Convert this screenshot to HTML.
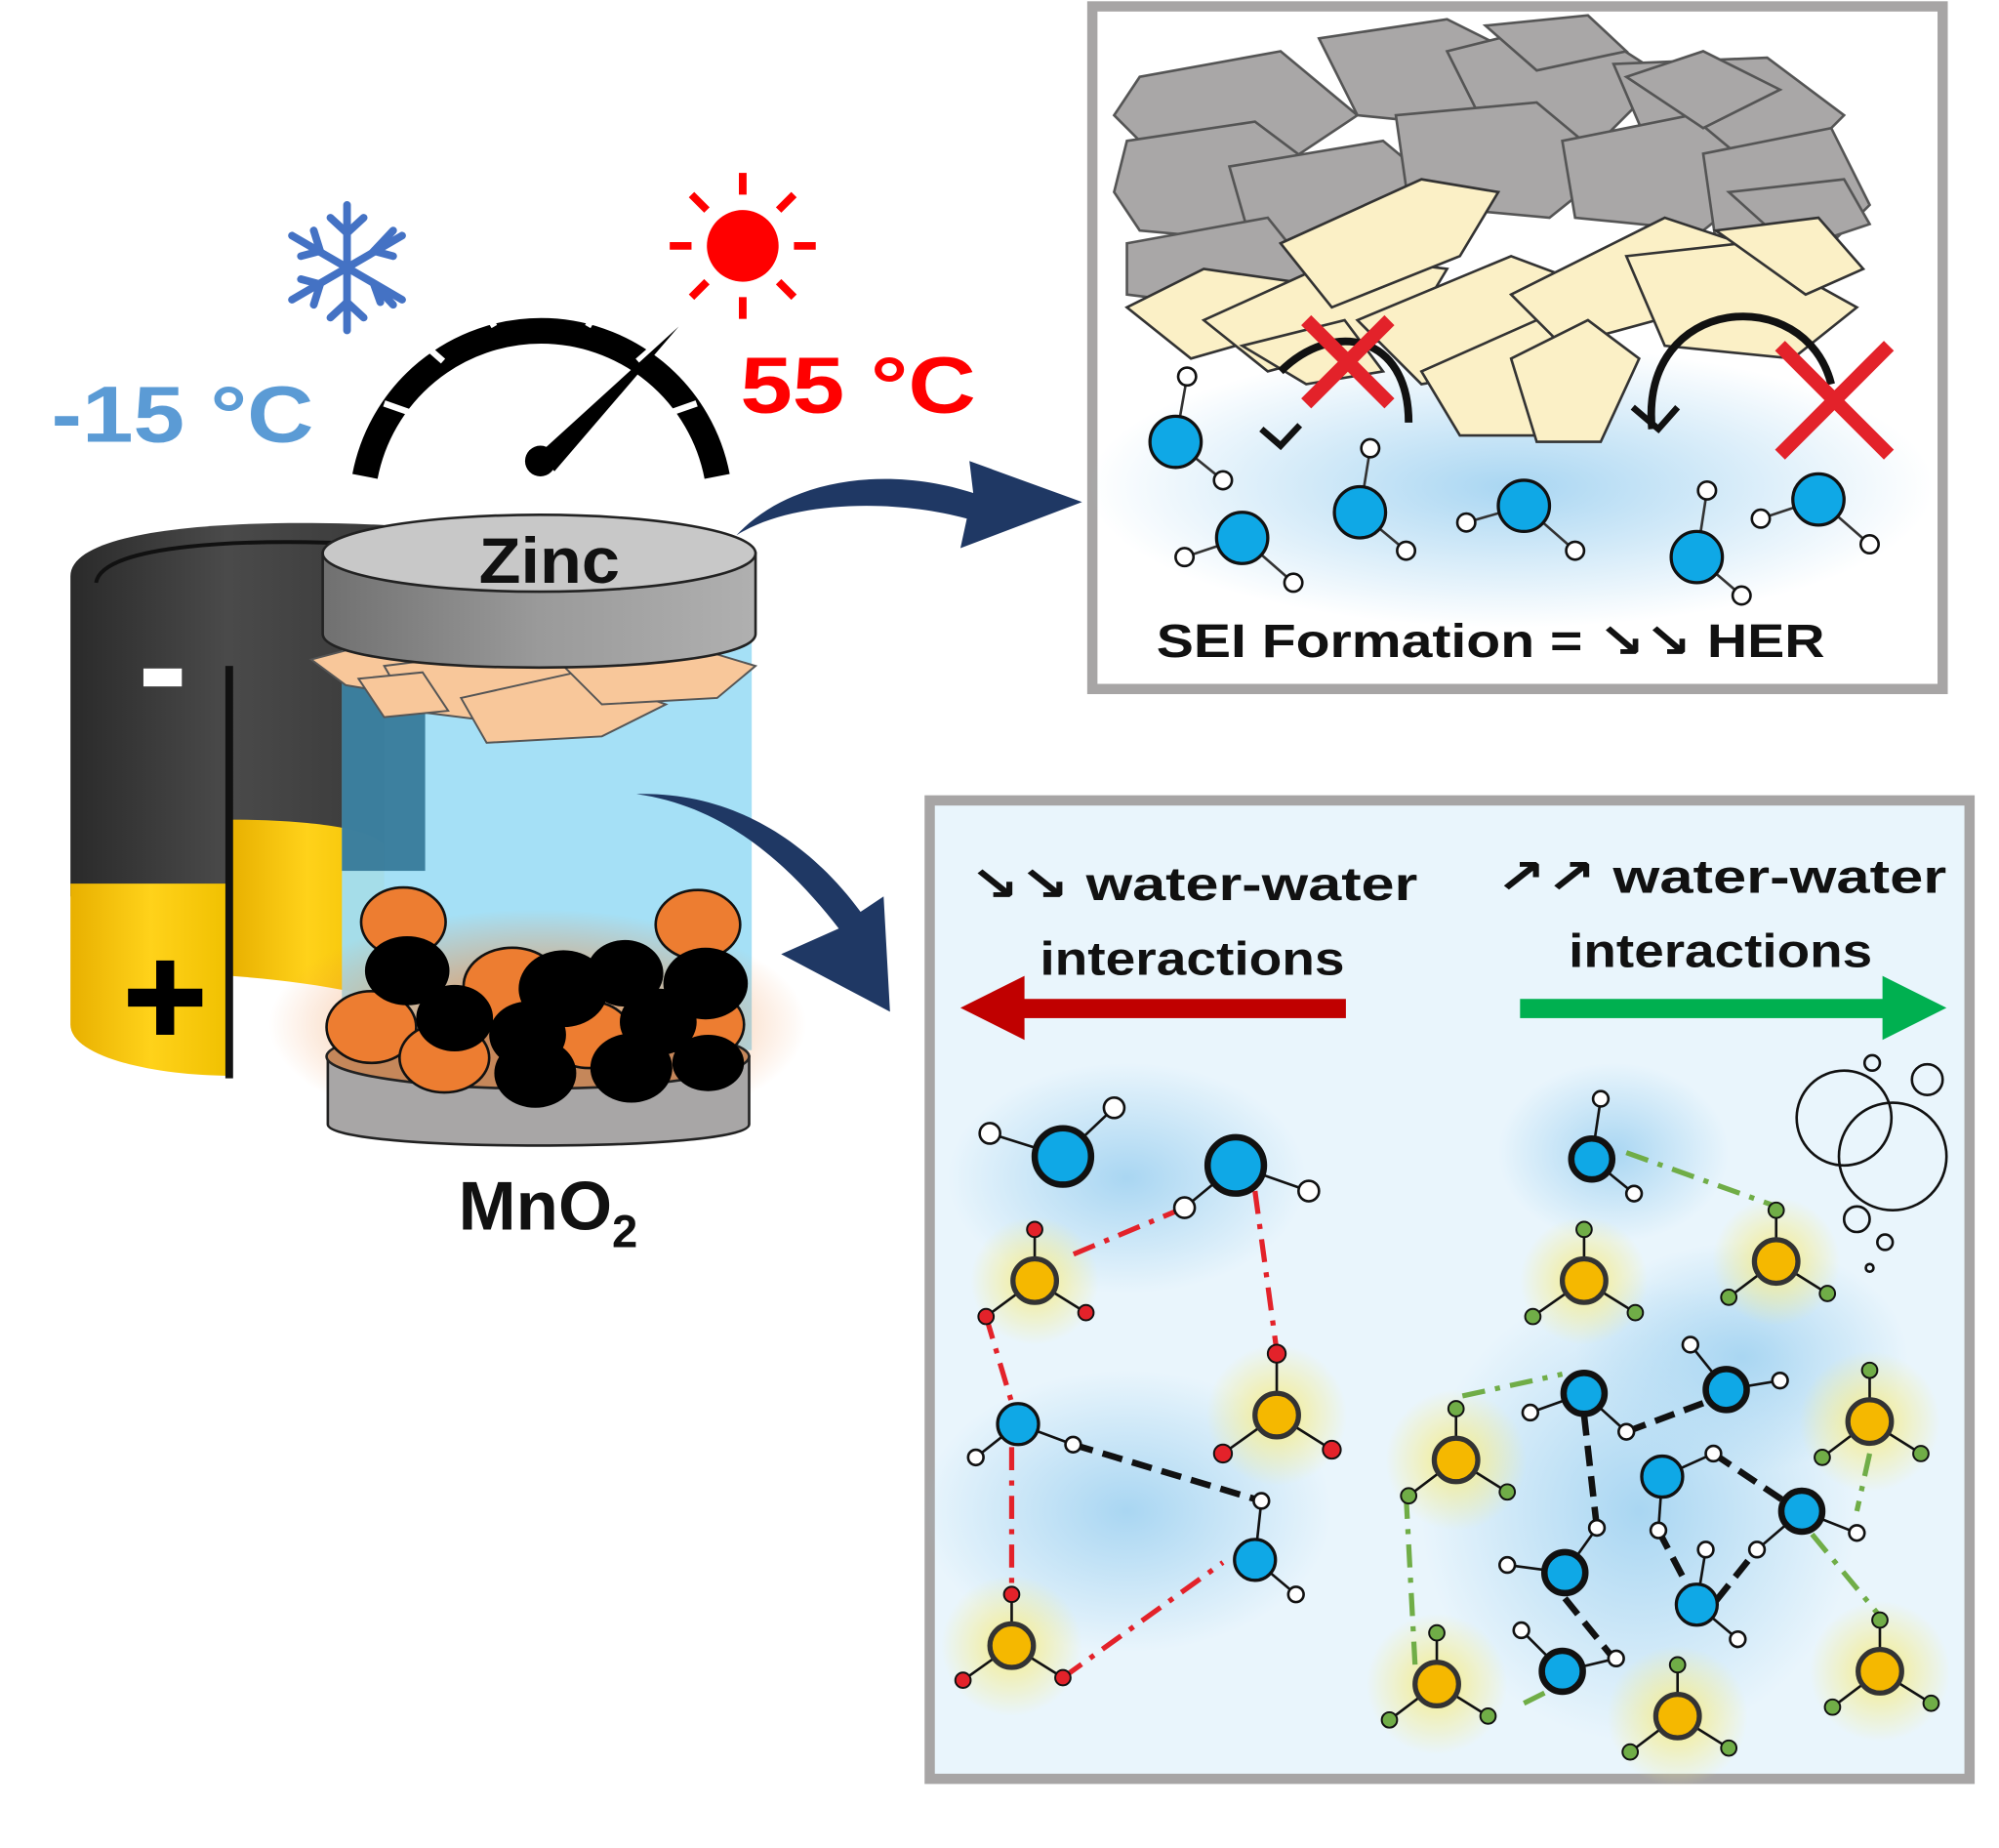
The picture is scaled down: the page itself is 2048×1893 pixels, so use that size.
<!DOCTYPE html>
<html><head><meta charset="utf-8"><style>
html,body{margin:0;padding:0;background:#fff;}
svg{display:block;}
text{font-family:"Liberation Sans","DejaVu Sans",sans-serif;font-weight:bold;}
</style></head><body>
<svg width="2048" height="1893" viewBox="0 0 1561 1443" preserveAspectRatio="none" xmlns="http://www.w3.org/2000/svg">
<defs>
<radialGradient id="bg1" cx="50%" cy="50%" r="50%"><stop offset="0" stop-color="#a9d6f2"/><stop offset="1" stop-color="#a9d6f2" stop-opacity="0"/></radialGradient>
<radialGradient id="yg" cx="50%" cy="50%" r="50%"><stop offset="0" stop-color="#f5ec8a"/><stop offset="1" stop-color="#f5ec8a" stop-opacity="0"/></radialGradient>
<radialGradient id="og" cx="50%" cy="50%" r="50%"><stop offset="0" stop-color="#f08a40"/><stop offset="1" stop-color="#f08a40" stop-opacity="0"/></radialGradient>
<linearGradient id="dark" x1="0" x2="1"><stop offset="0" stop-color="#2a2a2a"/><stop offset="0.5" stop-color="#4a4a4a"/><stop offset="1" stop-color="#3a3a3a"/></linearGradient>
<linearGradient id="gold" x1="0" x2="1"><stop offset="0" stop-color="#e8b000"/><stop offset="0.5" stop-color="#ffd21a"/><stop offset="1" stop-color="#f0c000"/></linearGradient>
<linearGradient id="zn" x1="0" x2="1"><stop offset="0" stop-color="#707070"/><stop offset="0.5" stop-color="#9a9a9a"/><stop offset="1" stop-color="#b0b0b0"/></linearGradient>
</defs>

<!-- Top-right box -->
<rect x="853" y="5" width="664" height="533" fill="#fff" stroke="#a7a5a5" stroke-width="8"/>
<ellipse cx="1180" cy="380" rx="330" ry="110" fill="url(#bg1)"/>
<g fill="#a9a7a7" stroke="#555" stroke-width="2">
<polygon points="890,60 1000,40 1060,90 1000,130 900,120 870,90"/>
<polygon points="1030,30 1130,15 1200,50 1160,100 1060,90"/>
<polygon points="1130,40 1230,15 1300,60 1250,110 1160,100"/>
<polygon points="1260,50 1380,45 1440,90 1400,130 1290,120"/>
<polygon points="880,110 980,95 1040,140 1000,190 890,180 870,150"/>
<polygon points="960,130 1080,110 1140,160 1080,210 980,200"/>
<polygon points="1090,90 1200,80 1260,130 1210,170 1100,160"/>
<polygon points="1220,110 1320,90 1380,140 1330,180 1230,170"/>
<polygon points="1330,120 1430,100 1460,160 1420,200 1340,190"/>
<polygon points="880,190 990,170 1030,220 960,240 880,230"/>
<polygon points="1270,60 1330,40 1390,70 1330,100"/>
<polygon points="1160,20 1240,12 1270,40 1200,55"/>
<polygon points="1350,150 1440,140 1460,175 1400,195"/>
</g>
<g fill="#fbf0c6" stroke="#333" stroke-width="2">
<polygon points="880,240 940,210 1010,220 1000,260 930,280"/>
<polygon points="940,250 1050,200 1130,210 1100,260 990,290"/>
<polygon points="1000,190 1110,140 1170,150 1140,200 1040,240"/>
<polygon points="1060,250 1180,200 1260,230 1220,280 1110,300"/>
<polygon points="1110,290 1200,250 1260,290 1230,340 1140,340"/>
<polygon points="1180,230 1300,170 1360,190 1330,240 1220,270"/>
<polygon points="1180,280 1240,250 1280,280 1250,345 1200,345"/>
<polygon points="1270,200 1360,190 1450,240 1400,280 1300,270"/>
<polygon points="1340,180 1420,170 1455,210 1410,230"/>
<polygon points="970,270 1050,250 1080,290 1020,300"/>
</g>
<g stroke="#111" stroke-width="6" fill="none">
<path d="M1100,330 C1100,260 1040,250 1000,290"/>
<path d="M1290,335 C1280,230 1410,220 1430,300"/>
</g>
<g stroke="#111" stroke-width="5" fill="none"><path d="M985,335 L1000,348 L1015,332"/><path d="M1275,318 L1295,335 L1310,318"/></g>
<g stroke="#e3222a" stroke-width="11"><path d="M1020,250 L1085,315 M1085,250 L1020,315"/><path d="M1390,270 L1475,355 M1475,270 L1390,355"/></g>
<g stroke="#333" stroke-width="2">
<line x1="918" y1="345" x2="927" y2="294"/><line x1="918" y1="345" x2="955" y2="375"/>
<line x1="970" y1="420" x2="925" y2="435"/><line x1="970" y1="420" x2="1010" y2="455"/>
<line x1="1062" y1="400" x2="1070" y2="350"/><line x1="1062" y1="400" x2="1098" y2="430"/>
<line x1="1190" y1="395" x2="1145" y2="408"/><line x1="1190" y1="395" x2="1230" y2="430"/>
<line x1="1325" y1="435" x2="1333" y2="383"/><line x1="1325" y1="435" x2="1360" y2="465"/>
<line x1="1420" y1="390" x2="1375" y2="405"/><line x1="1420" y1="390" x2="1460" y2="425"/>
</g>
<g fill="#0fa8e6" stroke="#111" stroke-width="2.5">
<circle cx="918" cy="345" r="20"/><circle cx="970" cy="420" r="20"/><circle cx="1062" cy="400" r="20"/><circle cx="1190" cy="395" r="20"/><circle cx="1325" cy="435" r="20"/><circle cx="1420" cy="390" r="20"/>
</g>
<g fill="#fff" stroke="#111" stroke-width="2">
<circle cx="927" cy="294" r="7"/><circle cx="955" cy="375" r="7"/><circle cx="925" cy="435" r="7"/><circle cx="1010" cy="455" r="7"/><circle cx="1070" cy="350" r="7"/><circle cx="1098" cy="430" r="7"/><circle cx="1145" cy="408" r="7"/><circle cx="1230" cy="430" r="7"/><circle cx="1333" cy="383" r="7"/><circle cx="1360" cy="465" r="7"/><circle cx="1375" cy="405" r="7"/><circle cx="1460" cy="425" r="7"/>
</g>
<text x="903" y="513" font-size="37" fill="#111" textLength="522" lengthAdjust="spacingAndGlyphs">SEI Formation =  ↘↘  HER</text>

<!-- Bottom-right box -->
<rect x="726" y="625" width="812" height="764" fill="#e9f5fc" stroke="#a7a5a5" stroke-width="8"/>
<g>
<ellipse cx="880" cy="920" rx="140" ry="90" fill="url(#bg1)"/>
<ellipse cx="880" cy="1180" rx="160" ry="110" fill="url(#bg1)"/>
<ellipse cx="1280" cy="1180" rx="170" ry="180" fill="url(#bg1)"/>
<ellipse cx="1260" cy="900" rx="90" ry="70" fill="url(#bg1)"/>
<ellipse cx="1360" cy="1060" rx="130" ry="90" fill="url(#bg1)"/>
</g>
<g>
<circle cx="808" cy="1000" r="50" fill="url(#yg)"/><circle cx="997" cy="1105" r="55" fill="url(#yg)"/><circle cx="790" cy="1285" r="55" fill="url(#yg)"/>
<circle cx="1237" cy="1000" r="50" fill="url(#yg)"/><circle cx="1387" cy="985" r="50" fill="url(#yg)"/><circle cx="1137" cy="1140" r="55" fill="url(#yg)"/><circle cx="1460" cy="1110" r="55" fill="url(#yg)"/><circle cx="1122" cy="1315" r="55" fill="url(#yg)"/><circle cx="1310" cy="1340" r="55" fill="url(#yg)"/><circle cx="1468" cy="1305" r="55" fill="url(#yg)"/>
</g>
<text x="757" y="703" font-size="37" fill="#111" textLength="350" lengthAdjust="spacingAndGlyphs">↘↘  water-water</text>
<text x="812" y="761" font-size="37" fill="#111" textLength="238" lengthAdjust="spacingAndGlyphs">interactions</text>
<text x="1168" y="697" font-size="37" fill="#111" textLength="352" lengthAdjust="spacingAndGlyphs">↗↗  water-water</text>
<text x="1225" y="755" font-size="37" fill="#111" textLength="237" lengthAdjust="spacingAndGlyphs">interactions</text>
<rect x="795" y="780" width="256" height="15" fill="#c00000"/>
<polygon points="750,787 800,762 800,812" fill="#c00000"/>
<rect x="1187" y="780" width="290" height="15" fill="#00b050"/>
<polygon points="1520,787 1470,762 1470,812" fill="#00b050"/>
<g fill="none" stroke="#111" stroke-width="2">
<circle cx="1440" cy="873" r="37"/><circle cx="1478" cy="903" r="42"/><circle cx="1505" cy="843" r="12"/><circle cx="1462" cy="830" r="6"/><circle cx="1450" cy="952" r="10"/><circle cx="1472" cy="970" r="6"/><circle cx="1460" cy="990" r="3"/>
</g>
<g stroke="#e3222a" stroke-width="4" stroke-dasharray="18,8,4,8" fill="none">
<path d="M925,943 L832,982"/><path d="M980,930 L997,1055"/><path d="M770,1028 L790,1095"/><path d="M790,1130 L790,1245"/><path d="M830,1310 L955,1220"/>
</g>
<g stroke="#111" stroke-width="5" stroke-dasharray="16,8" fill="none">
<path d="M838,1128 L985,1172"/><path d="M1270,1118 L1345,1090"/><path d="M1237,1105 L1247,1193"/><path d="M1222,1248 L1260,1295"/><path d="M1338,1135 L1405,1180"/><path d="M1295,1195 L1325,1252"/><path d="M1340,1250 L1372,1210"/>
</g>
<g stroke="#70ad47" stroke-width="4" stroke-dasharray="18,8,4,8" fill="none">
<path d="M1270,900 L1387,942"/><path d="M1142,1090 L1220,1073"/><path d="M1098,1168 L1105,1300"/><path d="M1460,1135 L1450,1180"/><path d="M1415,1198 L1468,1262"/><path d="M1190,1330 L1210,1320"/>
</g>
<g stroke="#111" stroke-width="2">
<line x1="830" y1="903" x2="773" y2="885"/><line x1="830" y1="903" x2="870" y2="865"/>
<line x1="965" y1="910" x2="925" y2="943"/><line x1="965" y1="910" x2="1022" y2="930"/>
<line x1="795" y1="1112" x2="762" y2="1138"/><line x1="795" y1="1112" x2="838" y2="1128"/>
<line x1="980" y1="1218" x2="985" y2="1172"/><line x1="980" y1="1218" x2="1012" y2="1245"/>
<line x1="1243" y1="905" x2="1250" y2="858"/><line x1="1243" y1="905" x2="1276" y2="932"/>
<line x1="1237" y1="1088" x2="1195" y2="1103"/><line x1="1237" y1="1088" x2="1270" y2="1118"/>
<line x1="1348" y1="1085" x2="1320" y2="1050"/><line x1="1348" y1="1085" x2="1390" y2="1078"/>
<line x1="1298" y1="1153" x2="1338" y2="1135"/><line x1="1298" y1="1153" x2="1295" y2="1195"/>
<line x1="1407" y1="1180" x2="1450" y2="1197"/><line x1="1407" y1="1180" x2="1372" y2="1210"/>
<line x1="1222" y1="1228" x2="1177" y2="1222"/><line x1="1222" y1="1228" x2="1247" y2="1193"/>
<line x1="1325" y1="1253" x2="1332" y2="1210"/><line x1="1325" y1="1253" x2="1357" y2="1280"/>
<line x1="1220" y1="1305" x2="1188" y2="1273"/><line x1="1220" y1="1305" x2="1262" y2="1295"/>
</g>
<g fill="#0fa8e6" stroke="#111" stroke-width="5">
<circle cx="830" cy="903" r="22"/><circle cx="965" cy="910" r="22"/>
<circle cx="1243" cy="905" r="16"/><circle cx="1237" cy="1088" r="16"/><circle cx="1348" cy="1085" r="16"/><circle cx="1407" cy="1180" r="16"/><circle cx="1222" cy="1228" r="16"/><circle cx="1220" cy="1305" r="16"/>
</g>
<g fill="#0fa8e6" stroke="#111" stroke-width="2.5">
<circle cx="795" cy="1112" r="16"/><circle cx="980" cy="1218" r="16"/><circle cx="1298" cy="1153" r="16"/><circle cx="1325" cy="1253" r="16"/>
</g>
<g fill="#fff" stroke="#111" stroke-width="2">
<circle cx="773" cy="885" r="8"/><circle cx="870" cy="865" r="8"/><circle cx="925" cy="943" r="8"/><circle cx="1022" cy="930" r="8"/><circle cx="762" cy="1138" r="6"/><circle cx="838" cy="1128" r="6"/><circle cx="985" cy="1172" r="6"/><circle cx="1012" cy="1245" r="6"/>
<circle cx="1250" cy="858" r="6"/><circle cx="1276" cy="932" r="6"/><circle cx="1195" cy="1103" r="6"/><circle cx="1270" cy="1118" r="6"/><circle cx="1320" cy="1050" r="6"/><circle cx="1390" cy="1078" r="6"/><circle cx="1338" cy="1135" r="6"/><circle cx="1295" cy="1195" r="6"/><circle cx="1450" cy="1197" r="6"/><circle cx="1372" cy="1210" r="6"/><circle cx="1177" cy="1222" r="6"/><circle cx="1247" cy="1193" r="6"/><circle cx="1332" cy="1210" r="6"/><circle cx="1357" cy="1280" r="6"/><circle cx="1188" cy="1273" r="6"/><circle cx="1262" cy="1295" r="6"/>
</g>
<g stroke="#111" stroke-width="2">
<path d="M808,1000 L808,960 M808,1000 L770,1028 M808,1000 L848,1025"/>
<path d="M997,1105 L997,1057 M997,1105 L955,1135 M997,1105 L1040,1132"/>
<path d="M790,1285 L790,1245 M790,1285 L752,1312 M790,1285 L830,1310"/>
</g>
<g fill="#f5b800" stroke="#333" stroke-width="4"><circle cx="808" cy="1000" r="17"/><circle cx="997" cy="1105" r="17"/><circle cx="790" cy="1285" r="17"/></g>
<g fill="#e3222a" stroke="#111" stroke-width="1.5">
<circle cx="808" cy="960" r="6"/><circle cx="770" cy="1028" r="6"/><circle cx="848" cy="1025" r="6"/>
<circle cx="997" cy="1057" r="7"/><circle cx="955" cy="1135" r="7"/><circle cx="1040" cy="1132" r="7"/>
<circle cx="790" cy="1245" r="6"/><circle cx="752" cy="1312" r="6"/><circle cx="830" cy="1310" r="6"/>
</g>
<g stroke="#111" stroke-width="2">
<path d="M1237,1000 v-40 M1237,1000 l-40,28 M1237,1000 l40,25"/>
<path d="M1387,985 v-40 M1387,985 l-37,28 M1387,985 l40,25"/>
<path d="M1137,1140 v-40 M1137,1140 l-37,28 M1137,1140 l40,25"/>
<path d="M1460,1110 v-40 M1460,1110 l-37,28 M1460,1110 l40,25"/>
<path d="M1122,1315 v-40 M1122,1315 l-37,28 M1122,1315 l40,25"/>
<path d="M1310,1340 v-40 M1310,1340 l-37,28 M1310,1340 l40,25"/>
<path d="M1468,1305 v-40 M1468,1305 l-37,28 M1468,1305 l40,25"/>
</g>
<g fill="#f5b800" stroke="#333" stroke-width="4"><circle cx="1237" cy="1000" r="17"/><circle cx="1387" cy="985" r="17"/><circle cx="1137" cy="1140" r="17"/><circle cx="1460" cy="1110" r="17"/><circle cx="1122" cy="1315" r="17"/><circle cx="1310" cy="1340" r="17"/><circle cx="1468" cy="1305" r="17"/></g>
<g fill="#70ad47" stroke="#111" stroke-width="1.5">
<circle cx="1237" cy="960" r="6"/><circle cx="1197" cy="1028" r="6"/><circle cx="1277" cy="1025" r="6"/>
<circle cx="1387" cy="945" r="6"/><circle cx="1350" cy="1013" r="6"/><circle cx="1427" cy="1010" r="6"/>
<circle cx="1137" cy="1100" r="6"/><circle cx="1100" cy="1168" r="6"/><circle cx="1177" cy="1165" r="6"/>
<circle cx="1460" cy="1070" r="6"/><circle cx="1423" cy="1138" r="6"/><circle cx="1500" cy="1135" r="6"/>
<circle cx="1122" cy="1275" r="6"/><circle cx="1085" cy="1343" r="6"/><circle cx="1162" cy="1340" r="6"/>
<circle cx="1310" cy="1300" r="6"/><circle cx="1273" cy="1368" r="6"/><circle cx="1350" cy="1365" r="6"/>
<circle cx="1468" cy="1265" r="6"/><circle cx="1431" cy="1333" r="6"/><circle cx="1508" cy="1330" r="6"/>
</g>

<!-- Left: battery -->
<path d="M55,450 C55,410 200,405 300,410 L300,760 L55,700 Z" fill="url(#dark)"/>
<path d="M75,455 C80,425 190,420 290,425" stroke="#111" stroke-width="3" fill="none"/>
<path d="M55,690 L180,690 L180,840 C120,840 55,825 55,800 Z" fill="url(#gold)"/>
<path d="M180,640 C230,640 290,645 300,660 L300,780 C260,770 220,765 180,762 Z" fill="url(#gold)"/>
<rect x="176" y="520" width="6" height="322" fill="#111"/>
<rect x="112" y="522" width="30" height="14" fill="#fff"/>
<rect x="100" y="772" width="58" height="14" fill="#000"/><rect x="122" y="750" width="14" height="58" fill="#000"/>
<rect x="267" y="490" width="320" height="330" fill="#a0def6" opacity="0.95"/>
<rect x="267" y="530" width="65" height="150" fill="#2a6f8f" opacity="0.85"/>
<ellipse cx="420" cy="800" rx="210" ry="90" fill="url(#og)"/>
<path d="M256,825 L256,878 C256,900 585,900 585,878 L585,825 Z" fill="#a8a6a6" stroke="#222" stroke-width="2"/>
<ellipse cx="420" cy="825" rx="165" ry="25" fill="#c5875a" stroke="#222" stroke-width="2"/>
<g stroke="#111" stroke-width="2" fill="#ed7d31">
<ellipse cx="315" cy="720" rx="33" ry="27"/><ellipse cx="545" cy="722" rx="33" ry="27"/><ellipse cx="400" cy="770" rx="38" ry="30"/>
<ellipse cx="290" cy="802" rx="35" ry="28"/><ellipse cx="347" cy="826" rx="35" ry="27"/><ellipse cx="548" cy="800" rx="33" ry="27"/><ellipse cx="460" cy="808" rx="33" ry="26"/>
</g>
<g fill="#000">
<ellipse cx="318" cy="758" rx="33" ry="27"/><ellipse cx="440" cy="772" rx="35" ry="30"/><ellipse cx="488" cy="760" rx="30" ry="26"/><ellipse cx="551" cy="768" rx="33" ry="28"/>
<ellipse cx="355" cy="795" rx="30" ry="26"/><ellipse cx="412" cy="808" rx="30" ry="26"/><ellipse cx="514" cy="798" rx="30" ry="26"/>
<ellipse cx="418" cy="838" rx="32" ry="27"/><ellipse cx="493" cy="834" rx="32" ry="27"/><ellipse cx="553" cy="830" rx="28" ry="22"/>
</g>
<text x="358" y="960" font-size="54" fill="#111">MnO<tspan font-size="36" dy="14">2</tspan></text>
<g fill="#f8c79a" stroke="#555" stroke-width="1.5">
<polygon points="243,515 300,500 360,520 330,545 270,535"/>
<polygon points="300,520 420,505 470,540 400,565 320,555"/>
<polygon points="360,545 450,525 520,550 470,575 380,580"/>
<polygon points="440,520 540,505 590,520 560,545 470,550"/>
<polygon points="280,530 330,525 350,555 300,560"/>
</g>
<path d="M252,432 L252,495 C252,530 590,530 590,495 L590,432 Z" fill="url(#zn)" stroke="#222" stroke-width="2"/>
<ellipse cx="421" cy="432" rx="169" ry="30" fill="#c8c8c8" stroke="#222" stroke-width="2"/>
<text x="374" y="455" font-size="50" fill="#111" textLength="110" lengthAdjust="spacingAndGlyphs">Zinc</text>
<path d="M575,418 C620,370 700,365 760,385 L757,360 L845,392 L750,428 L755,405 C700,390 620,390 575,418 Z" fill="#1f3864"/>
<path d="M497,620 C570,630 620,680 655,725 L610,745 L695,790 L690,700 L672,712 C630,655 570,618 497,620 Z" fill="#1f3864"/>
<path d="M285,372 A140,140 0 0 1 560,372" fill="none" stroke="#000" stroke-width="20"/>
<g stroke="#fff" stroke-width="5">
<line x1="300" y1="315" x2="320" y2="322"/><line x1="330" y1="268" x2="346" y2="282"/><line x1="375" y1="236" x2="386" y2="255"/><line x1="422" y1="224" x2="422" y2="246"/><line x1="470" y1="236" x2="459" y2="255"/><line x1="514" y1="268" x2="498" y2="282"/><line x1="544" y1="315" x2="524" y2="322"/>
</g>
<polygon points="530,255 420,355 433,368" fill="#000"/>
<circle cx="422" cy="360" r="12" fill="#000"/>
<g stroke="#4472c4" stroke-width="6" stroke-linecap="round" fill="none">
<path d="M271,160 V258 M228,184 L314,234 M228,234 L314,184"/>
<path d="M258,170 L271,182 L284,170 M258,248 L271,236 L284,248 M235,200 L250,196 L245,180 M307,238 L292,222 L297,236 M235,218 L250,222 L245,238 M307,180 L292,196 L307,200"/>
</g>
<circle cx="580" cy="192" r="28" fill="#ff0000"/>
<g stroke="#ff0000" stroke-width="6"><line x1="580" y1="135" x2="580" y2="152"/><line x1="580" y1="232" x2="580" y2="249"/><line x1="523" y1="192" x2="540" y2="192"/><line x1="620" y1="192" x2="637" y2="192"/><line x1="540" y1="152" x2="552" y2="164"/><line x1="608" y1="220" x2="620" y2="232"/><line x1="620" y1="152" x2="608" y2="164"/><line x1="552" y1="220" x2="540" y2="232"/></g>
<text x="40" y="345" font-size="62" fill="#5b9bd5" textLength="205" lengthAdjust="spacingAndGlyphs">-15 °C</text>
<text x="578" y="322" font-size="62" fill="#ff0000" textLength="184" lengthAdjust="spacingAndGlyphs">55 °C</text>
</svg>
</body></html>
